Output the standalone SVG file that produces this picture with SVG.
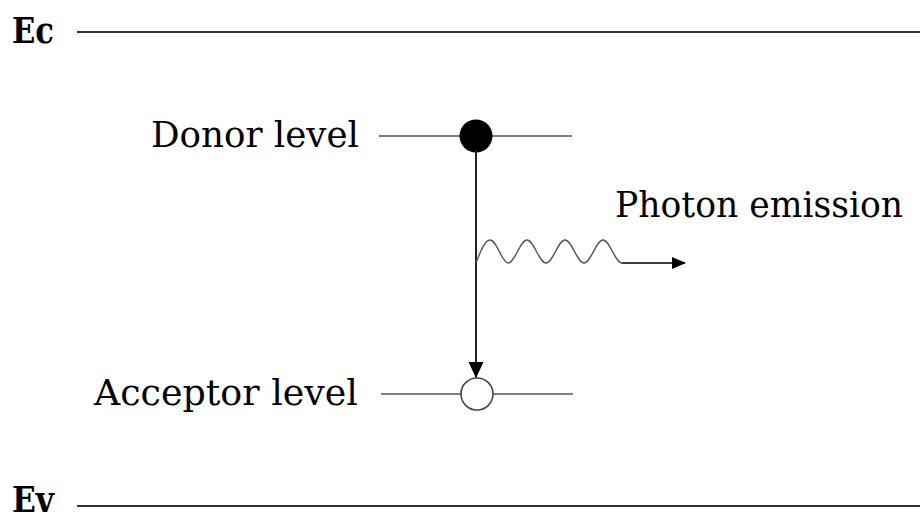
<svg xmlns="http://www.w3.org/2000/svg" width="920" height="519" viewBox="0 0 920 519">
<defs>
<style>
.lbl{font-family:"DejaVu Serif","Liberation Serif",serif;font-size:35px;fill:#000;}
.band{font-family:"DejaVu Serif","Liberation Serif",serif;font-size:35px;font-weight:bold;fill:#000;}
.thick{stroke:#333;stroke-width:2.2;fill:none;}
.thin{stroke:#555;stroke-width:1.4;fill:none;}
</style>
<marker id="ah" markerWidth="14" markerHeight="12" refX="13" refY="6" orient="auto" markerUnits="userSpaceOnUse">
<path d="M0,0 L14,6 L0,12 Z" fill="#000"/>
</marker>
<marker id="ah2" markerWidth="16" markerHeight="16" refX="15" refY="8" orient="auto" markerUnits="userSpaceOnUse">
<path d="M0,0.5 L16,8 L0,15.5 Z" fill="#000"/>
</marker>
</defs>
<rect width="920" height="519" fill="#fff"/>
<g id="ec">
<text class="band" x="12" y="43" textLength="42" lengthAdjust="spacingAndGlyphs">Ec</text>
<line class="thick" x1="77" y1="32" x2="920" y2="32"/>
</g>
<g id="ev">
<text class="band" x="12" y="512" textLength="42" lengthAdjust="spacingAndGlyphs">Ev</text>
<line class="thick" x1="77" y1="506" x2="920" y2="506"/>
</g>
<g id="donor">
<text class="lbl" x="151" y="147" textLength="208" lengthAdjust="spacingAndGlyphs">Donor level</text>
<line class="thin" x1="379" y1="136" x2="572" y2="136"/>
<circle cx="476" cy="136" r="16.5" fill="#000"/>
</g>
<g id="acceptor">
<text class="lbl" x="94" y="405" textLength="264" lengthAdjust="spacingAndGlyphs">Acceptor level</text>
<line class="thin" x1="381" y1="394" x2="573" y2="394"/>
<circle cx="477" cy="394" r="16" fill="#fff" stroke="#444" stroke-width="1.6"/>
</g>
<g id="photon">
<text class="lbl" x="615" y="217" textLength="288" lengthAdjust="spacingAndGlyphs">Photon emission</text>
</g>
<g id="connectors">
<line x1="476" y1="150" x2="476" y2="377" stroke="#222" stroke-width="2" marker-end="url(#ah2)"/>
<path class="thin" stroke="#444" stroke-width="1.8" d="M476,263 C481,250 485,240 490,240 C497,240 502,263 508,263 C515,263 520,240 527,240 C534,240 539,263 546,263 C553,263 558,240 565,240 C572,240 577,263 584,263 C591,263 596,240 603,240 C610,240 615,263 622,263"/>
<line x1="622" y1="263" x2="685" y2="263" stroke="#000" stroke-width="1.6" marker-end="url(#ah)"/>
</g>
</svg>
